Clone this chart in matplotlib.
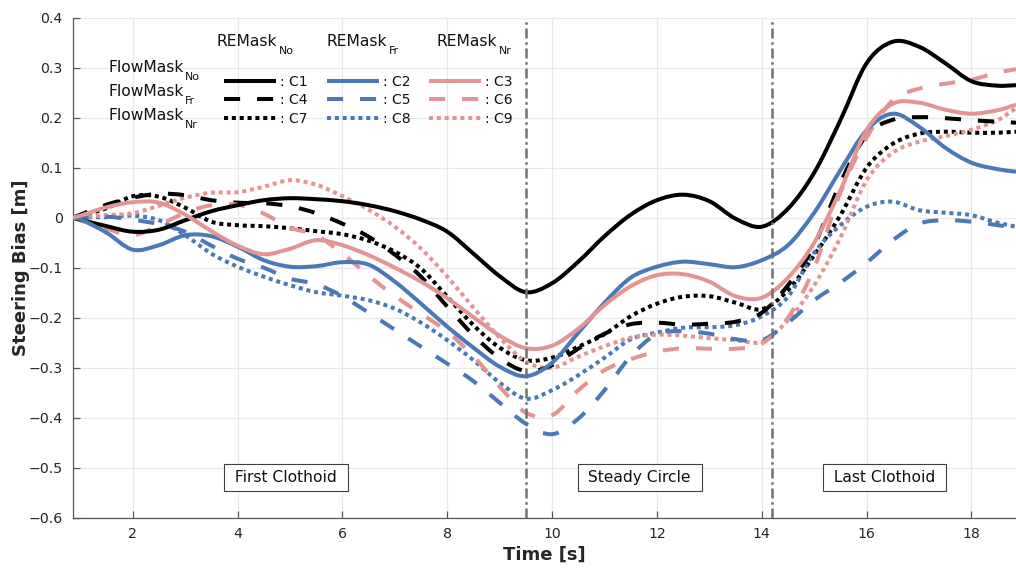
import matplotlib
matplotlib.use("Agg")
import matplotlib.pyplot as plt
from matplotlib.lines import Line2D
from matplotlib.path import Path
from matplotlib.patches import PathPatch

plt.rcParams['font.family'] = ['DejaVu Sans']
plt.rcParams['axes.unicode_minus'] = True

# ---------------- data ----------------
time_s = [0.85, 1.0, 1.5, 2.0, 2.5, 3.0, 3.5, 4.0, 4.5, 5.0, 5.5, 6.0, 6.5, 7.0,
          7.5, 8.0, 8.5, 9.0, 9.5, 10.0, 10.5, 11.0, 11.5, 12.0, 12.5, 13.0,
          13.5, 14.0, 14.5, 15.0, 15.5, 16.0, 16.5, 17.0, 17.5, 18.0, 18.5, 18.85]

c1 = [0, -0.004, -0.017, -0.028, -0.024, -0.005, 0.013, 0.025, 0.035, 0.039, 0.037, 0.033,
      0.025, 0.013, -0.004, -0.028, -0.072, -0.117, -0.149, -0.131, -0.088, -0.037, 0.006,
      0.035, 0.046, 0.033, -0.002, -0.018, 0.018, 0.09, 0.195, 0.309, 0.352, 0.342, 0.309,
      0.273, 0.264, 0.265]
c2 = [0, -0.003, -0.03, -0.064, -0.055, -0.035, -0.037, -0.058, -0.085, -0.098, -0.097, -0.089,
      -0.094, -0.128, -0.172, -0.218, -0.26, -0.298, -0.317, -0.29, -0.23, -0.17, -0.12,
      -0.098, -0.088, -0.093, -0.099, -0.085, -0.055, 0.01, 0.095, 0.175, 0.208, 0.182, 0.14,
      0.11, 0.097, 0.092]
c3 = [0, 0.004, 0.021, 0.031, 0.03, 0.006, -0.027, -0.056, -0.073, -0.062, -0.045, -0.055,
      -0.075, -0.1, -0.128, -0.161, -0.199, -0.236, -0.261, -0.256, -0.222, -0.175, -0.137,
      -0.115, -0.113, -0.128, -0.157, -0.16, -0.12, -0.05, 0.055, 0.175, 0.228, 0.23, 0.216,
      0.208, 0.215, 0.226]
c4 = [0, 0.006, 0.026, 0.04, 0.048, 0.045, 0.035, 0.03, 0.029, 0.023, 0.009, -0.012, -0.038,
      -0.074, -0.118, -0.178, -0.235, -0.281, -0.307, -0.295, -0.262, -0.232, -0.213, -0.21,
      -0.214, -0.212, -0.208, -0.19, -0.135, -0.055, 0.07, 0.165, 0.196, 0.201, 0.199, 0.195,
      0.192, 0.19]
c5 = [0, 0.0, 0.002, -0.004, -0.013, -0.028, -0.056, -0.082, -0.1, -0.122, -0.133, -0.157,
      -0.19, -0.224, -0.258, -0.292, -0.327, -0.37, -0.412, -0.433, -0.402, -0.345, -0.277,
      -0.233, -0.227, -0.232, -0.243, -0.245, -0.21, -0.165, -0.13, -0.09, -0.045, -0.012,
      -0.005, -0.008, -0.015, -0.02]
c6 = [0, -0.005, -0.022, -0.035, -0.015, 0.01, 0.025, 0.026, 0.008, -0.02, -0.035, -0.072,
      -0.116, -0.157, -0.192, -0.228, -0.277, -0.338, -0.39, -0.395, -0.345, -0.305, -0.283,
      -0.268, -0.261, -0.262, -0.262, -0.252, -0.2, -0.1, 0.05, 0.16, 0.235, 0.258, 0.268,
      0.276, 0.29, 0.297]
c7 = [0, 0.004, 0.019, 0.043, 0.042, 0.02, -0.008, -0.015, -0.017, -0.021, -0.027, -0.033,
      -0.046, -0.068, -0.102, -0.158, -0.215, -0.26, -0.285, -0.28, -0.258, -0.233, -0.197,
      -0.172, -0.158, -0.157, -0.17, -0.183, -0.145, -0.075, 0.005, 0.1, 0.148, 0.168, 0.172,
      0.17, 0.17, 0.172]
c8 = [0, 0.001, 0.001, 0.004, -0.005, -0.035, -0.072, -0.098, -0.118, -0.135, -0.149, -0.156,
      -0.165, -0.182, -0.21, -0.245, -0.285, -0.33, -0.362, -0.345, -0.315, -0.28, -0.243,
      -0.23, -0.22, -0.219, -0.215, -0.197, -0.158, -0.07, -0.015, 0.022, 0.032, 0.015, 0.01,
      0.005, -0.01, -0.018]
c9 = [0, 0.001, 0.005, 0.009, 0.024, 0.04, 0.05, 0.051, 0.062, 0.075, 0.066, 0.043, 0.016,
      -0.018, -0.062, -0.118, -0.18, -0.24, -0.288, -0.3, -0.278, -0.257, -0.24, -0.234,
      -0.236, -0.241, -0.245, -0.248, -0.205, -0.135, -0.04, 0.075, 0.13, 0.152, 0.163,
      0.176, 0.195, 0.219]

series = [c1, c2, c3, c4, c5, c6, c7, c8, c9]
series_names = ["C1", "C2", "C3", "C4", "C5", "C6", "C7", "C8", "C9"]
col_headers = ["No", "Fr", "Nr"]      # REMask columns
row_headers = ["No", "Fr", "Nr"]      # FlowMask rows
section_bounds = [9.5, 14.2]
section_labels = ["First Clothoid", "Steady Circle", "Last Clothoid"]
section_label_x = [4.92, 11.67, 16.35]
x_ticks = [2, 4, 6, 8, 10, 12, 14, 16, 18]
y_ticks = [0.4, 0.3, 0.2, 0.1, 0, -0.1, -0.2, -0.3, -0.4, -0.5, -0.6]

# ---------------- style ----------------
BLACK = "#000000"
BLUE = "#4a79b6"
PINK = "#e39595"
colors = [BLACK, BLUE, PINK]
LW = 2.9
styles = ["-", (0, (4.0, 4.2)), (0, (1.0, 0.95))]

W, H = 1016, 570
fig = plt.figure(figsize=(W / 100, H / 100), dpi=100)
ax_l, ax_r, ax_t, ax_b = 72.5, 1016, 17.7, 517.7
ax = fig.add_axes([ax_l / W, 1 - ax_b / H, (ax_r - ax_l) / W, (ax_b - ax_t) / H])


def smooth_path(xs, ys):
    """Cubic Bezier path passing through every data point (Catmull-Rom tangents)."""
    n = len(xs)
    verts = [(xs[0], ys[0])]
    codes = [Path.MOVETO]
    for i in range(n - 1):
        i0 = max(i - 1, 0)
        i3 = min(i + 2, n - 1)
        h = xs[i + 1] - xs[i]
        m1 = (ys[i + 1] - ys[i0]) / (xs[i + 1] - xs[i0])
        m2 = (ys[i3] - ys[i]) / (xs[i3] - xs[i])
        verts += [(xs[i] + h / 3, ys[i] + m1 * h / 3),
                  (xs[i + 1] - h / 3, ys[i + 1] - m2 * h / 3),
                  (xs[i + 1], ys[i + 1])]
        codes += [Path.CURVE4] * 3
    return Path(verts, codes)


for i, ys in enumerate(series):
    row, col = divmod(i, 3)
    patch = PathPatch(smooth_path(time_s, ys), facecolor="none", edgecolor=colors[col],
                      lw=LW, linestyle=styles[row], capstyle="butt", joinstyle="round",
                      transform=ax.transData, zorder=3 + (2 - row))
    ax.add_patch(patch)

for xb in section_bounds:
    ax.axvline(xb, color="#707070", lw=1.8, linestyle=(0, (4, 1.5, 1, 1.5)), zorder=6)

for lab, xl in zip(section_labels, section_label_x):
    ax.text(xl, -0.52, " " + lab + " ", ha="center", va="center", fontsize=11.2, zorder=7,
            color="#111111",
            bbox=dict(boxstyle="square,pad=0.38", fc="white", ec="#404040", lw=0.8))

ax.set_xlim(0.85, 18.85)
ax.set_ylim(-0.6, 0.4)
ax.set_xticks(x_ticks)
ax.set_yticks(y_ticks)
ax.set_yticklabels(["0" if v == 0 else f"{v:.1f}".replace("-", "\u2212") for v in y_ticks])
ax.grid(True, color="#e8e8e8", lw=0.9, zorder=0)
ax.set_axisbelow(True)
for s in ["top", "right"]:
    ax.spines[s].set_visible(False)
for s in ["left", "bottom"]:
    ax.spines[s].set_color("#555555")
    ax.spines[s].set_linewidth(0.9)
ax.tick_params(direction="in", length=5, width=0.9, color="#555555",
               labelsize=10.2, labelcolor="#262626", pad=7)
ax.set_xlabel("Time [s]", fontsize=13, fontweight="bold", labelpad=3, color="#262626")
ax.set_ylabel("Steering Bias [m]", fontsize=13, fontweight="bold", labelpad=-1, color="#262626")


# ---------------- custom matrix legend ----------------
def fx(px):
    return px / W


def fy(py):
    return 1 - py / H


renderer = fig.canvas.get_renderer()


def label_with_sub(px, base_py, main, sub, sub_drop):
    t = fig.text(fx(px), fy(base_py), main, fontsize=11.2, ha="left", va="baseline",
                 color="#111111")
    bb = t.get_window_extent(renderer=renderer)
    fig.text(bb.x1 / W + 1.0 / W, fy(base_py + sub_drop), sub, fontsize=7.8, ha="left",
             va="baseline", color="#111111")


header_x = [217, 327, 437]
for hx, h in zip(header_x, col_headers):
    label_with_sub(hx, 45.5, "REMask", h, 9.0)
row_label_base = [71.7, 95.5, 120.0]
for ry, h in zip(row_label_base, row_headers):
    label_with_sub(108, ry, "FlowMask", h, 8.5)

line_x0 = [224, 327, 429]
line_y = [80.7, 99.3, 118.3]
for i, name in enumerate(series_names):
    row, col = divmod(i, 3)
    x0 = line_x0[col]
    y = line_y[row]
    fig.add_artist(Line2D([fx(x0), fx(x0 + 52)], [fy(y), fy(y)], transform=fig.transFigure,
                          color=colors[col], lw=LW, linestyle=styles[row],
                          solid_capstyle='butt', dash_capstyle='butt'))
    fig.text(fx(x0 + 56), fy(y + 4.8), ": " + name, fontsize=10, ha="left", va="baseline",
             color="#111111")

fig.savefig("out.png", dpi=100)
